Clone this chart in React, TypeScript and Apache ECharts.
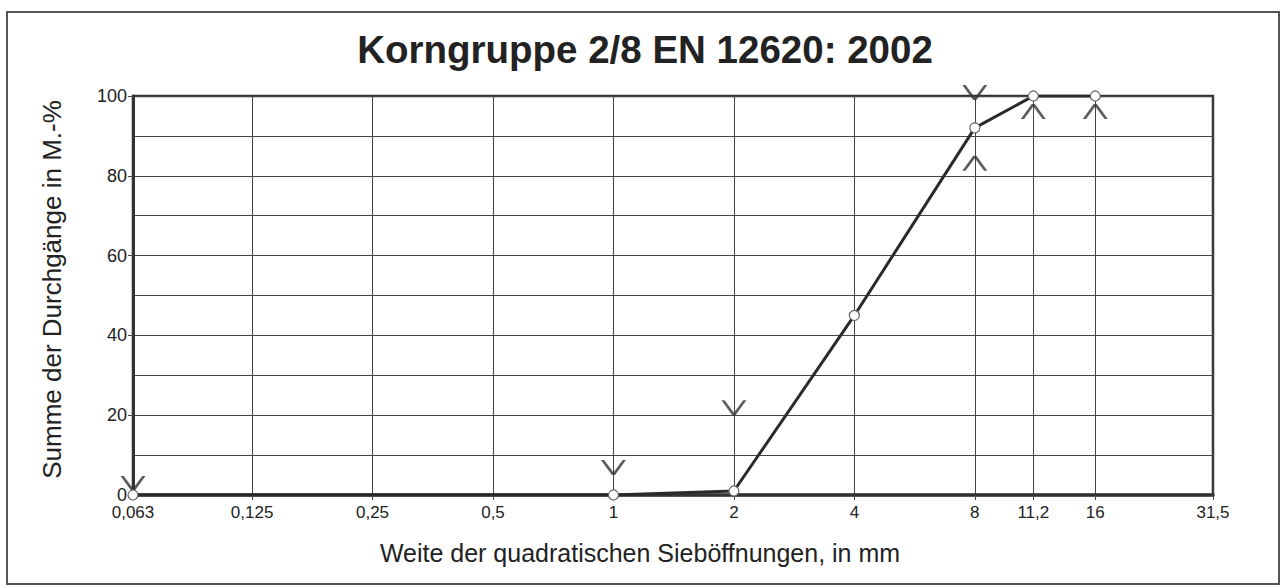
import React, { useEffect, useRef } from "react";
import * as echarts from "echarts";

const sieveTicks = [0.063, 0.125, 0.25, 0.5, 1, 2, 4, 8, 11.2, 16, 31.5];
const tickLabels = ["0,063", "0,125", "0,25", "0,5", "1", "2", "4", "8", "11,2", "16", "31,5"];

const sieveSizes = [0.063, 1, 2, 4, 8, 11.2, 16];
const passing = [0, 0, 1, 45, 92, 100, 100];

const upperSizes = [0.063, 1, 2, 8];
const upperLimits = [1, 5, 20, 99];

const lowerSizes = [8, 11.2, 16];
const lowerLimits = [85, 98, 98];

const toX = (s: number) => Math.log2(s);

const V_PATH = "path://M0,0 L2.6,0 L10,10 L17.4,0 L20,0 L11.3,12 L8.7,12 Z";
const A_PATH = "path://M8.7,0 L11.3,0 L20,12 L17.4,12 L10,2 L2.6,12 L0,12 Z";

export default function App() {
  const ref = useRef<HTMLDivElement>(null);
  useEffect(() => {
    document.body.style.margin = "0";
    if (!ref.current) return;
    const chart = echarts.init(ref.current, null, { renderer: "svg" });
    const xTickVals = sieveTicks.map(toX);
    const labelFor = (v: number) => {
      let best = 0;
      let d = Infinity;
      xTickVals.forEach((t, i) => {
        const dd = Math.abs(t - v);
        if (dd < d) {
          d = dd;
          best = i;
        }
      });
      return d < 0.01 ? tickLabels[best] : "";
    };
    chart.setOption({
      animation: false,
      backgroundColor: "#fff",
      title: {
        text: "Korngruppe 2/8 EN 12620: 2002",
        left: 640,
        textAlign: "center",
        top: 25,
        textStyle: { fontFamily: "Liberation Sans, Arial", fontWeight: "bold", fontSize: 38.5, color: "#222" },
      },
      graphic: [
        {
          type: "rect",
          shape: { x: 7, y: 12, width: 1272, height: 572 },
          style: { fill: "none", stroke: "#555", lineWidth: 2 },
          silent: true,
          z: -1,
        },
      ],
      grid: {
        left: 133,
        right: 72,
        top: 96,
        bottom: 91,
        show: true,
        borderColor: "#333",
        borderWidth: 2.5,
        backgroundColor: "transparent",
      },
      xAxis: {
        type: "value",
        min: toX(0.063),
        max: toX(31.5),
        name: "Weite der quadratischen Sieböffnungen, in mm",
        nameLocation: "middle",
        nameGap: 45,
        nameTextStyle: { fontFamily: "Liberation Sans, Arial", fontSize: 25, color: "#222", padding: [0, 66, 0, 0] },
        axisLine: { show: true, onZero: false, lineStyle: { color: "#333", width: 3.5 } },
        axisTick: { show: true, customValues: xTickVals, length: 5, lineStyle: { color: "#444" } },
        axisLabel: {
          customValues: xTickVals,
          formatter: (v: number) => labelFor(v),
          fontFamily: "Liberation Sans, Arial",
          fontSize: 17,
          lineHeight: 17,
          color: "#222",
          margin: 9,
        },
        splitLine: { show: true, lineStyle: { color: "#444", width: 1 } },
      },
      yAxis: {
        type: "value",
        min: 0,
        max: 100,
        interval: 20,
        name: "Summe der Durchgänge in M.-%",
        nameLocation: "middle",
        nameGap: 68,
        nameTextStyle: { fontFamily: "Liberation Sans, Arial", fontSize: 26, color: "#222", padding: [0, 0, 0, 12] },
        axisLine: { show: true, onZero: false, lineStyle: { color: "#333", width: 3 } },
        axisTick: { show: true, length: 5, lineStyle: { color: "#444" } },
        minorTick: { show: false, splitNumber: 2 },
        minorSplitLine: { show: true, lineStyle: { color: "#444", width: 1 } },
        axisLabel: {
          fontFamily: "Liberation Sans, Arial",
          fontSize: 18,
          lineHeight: 15,
          color: "#222",
          margin: 6,
        },
        splitLine: { show: true, lineStyle: { color: "#444", width: 1 } },
      },
      series: [
        {
          type: "scatter",
          name: "Obergrenze",
          data: upperSizes.map((s, i) => [toX(s), upperLimits[i]]),
          symbol: V_PATH,
          symbolSize: [25, 15],
          symbolOffset: [0, -7.5],
          itemStyle: { color: "#333" },
          z: 3,
        },
        {
          type: "scatter",
          name: "Untergrenze",
          data: lowerSizes.map((s, i) => [toX(s), lowerLimits[i]]),
          symbol: A_PATH,
          symbolSize: [25, 15],
          symbolOffset: [0, 7.5],
          itemStyle: { color: "#333" },
          z: 3,
        },
        {
          type: "line",
          name: "Sieblinie",
          data: sieveSizes.map((s, i) => [toX(s), passing[i]]),
          symbol: "circle",
          symbolSize: 10,
          showAllSymbol: true,
          lineStyle: { color: "#2a2a2a", width: 3 },
          itemStyle: { color: "#fff", borderColor: "#666", borderWidth: 1.2 },
          z: 4,
        },
      ],
    });
    return () => chart.dispose();
  }, []);
  return <div ref={ref} style={{ width: 1285, height: 586 }} />;
}
